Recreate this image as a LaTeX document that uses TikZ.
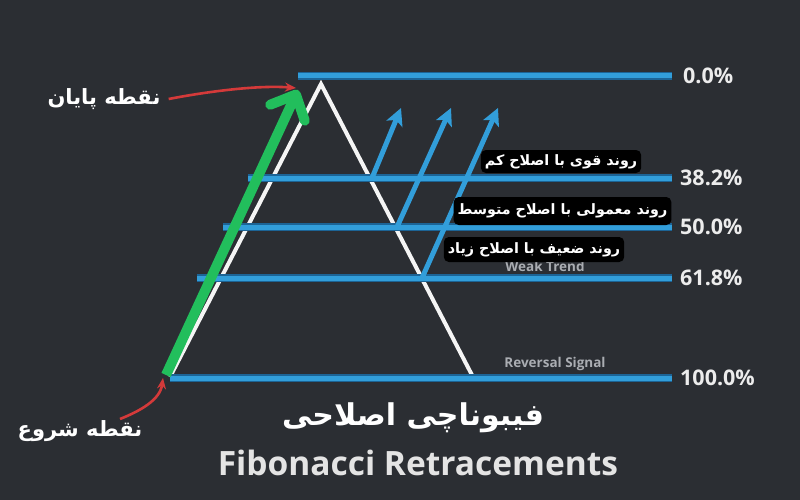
\documentclass[tikz,border=0pt]{standalone}
\usepackage{fontspec}
\setmainfont{Open Sans}
\newfontfamily\arabicfont[Script=Arabic]{DejaVu Sans}
\TeXXeTstate=1
\usetikzlibrary{arrows.meta}
\definecolor{bg}{RGB}{43,46,51}
\definecolor{lvlblue}{RGB}{50,158,218}
\definecolor{lvledge}{RGB}{28,100,150}
\definecolor{triwhite}{RGB}{245,245,245}
\definecolor{pcttext}{RGB}{236,236,236}
\definecolor{grnarrow}{RGB}{34,190,92}
\definecolor{redarrow}{RGB}{212,58,58}
\definecolor{faint}{RGB}{170,173,178}
\definecolor{entitle}{RGB}{228,228,228}
\begin{document}
\begin{tikzpicture}[x=1pt,y=-1pt,
  leveledge/.style={line width=7.5pt, draw=lvledge},
  level/.style={line width=5pt, draw=lvlblue},
  pct/.style={anchor=west, text=pcttext, inner sep=0pt, font=\fontsize{21.5}{24}\selectfont\bfseries},
  tri/.style={draw=triwhite, line width=4pt, line join=miter},
  uparrow/.style={draw=lvlblue, line width=5pt, -{Stealth[length=17pt,width=17pt,inset=4pt]}},
  grn/.style={draw=grnarrow, line width=10pt, -{Straight Barb[length=20pt,width=38pt,round]}},
  redarr/.style={draw=redarrow, line width=2.6pt, -{Stealth[length=11pt,width=9pt]}},
  tag/.style={fill=black, rounded corners=5pt, text=white, inner xsep=4pt, inner ysep=0pt, font=\arabicfont\bfseries\fontsize{14.3}{16}\selectfont},
  lbl/.style={text=white, inner sep=0pt, font=\arabicfont\bfseries\fontsize{21}{24}\selectfont},
  faintlbl/.style={text=faint, inner sep=0pt, font=\fontsize{13.5}{15}\selectfont\bfseries}
]
\useasboundingbox (0,0) rectangle (800,500);
\fill[bg] (0,0) rectangle (800,500);

% triangle
\coordinate (apex) at (321,84);
\coordinate (bl) at (170,377);
\coordinate (br) at (473,377);
\draw[tri] (bl) -- (apex) -- (br);

% levels
\coordinate (l0) at (298,76);   \coordinate (r0) at (672,76);
\coordinate (l1) at (248,178);  \coordinate (r1) at (672,178);
\coordinate (l2) at (223,227);  \coordinate (r2) at (672,227);
\coordinate (l3) at (197,278);  \coordinate (r3) at (672,278);
\coordinate (l4) at (170,378);  \coordinate (r4) at (672,378);
\foreach \i in {0,1,2,3,4} {\draw[leveledge] (l\i) -- (r\i);}
\foreach \i in {0,1,2,3,4} {\draw[level] (l\i) -- (r\i);}

\node[pct] (p0) at (683,76) {0.0\%};
\node[pct] (p1) at (680,178) {38.2\%};
\node[pct] (p2) at (680,227) {50.0\%};
\node[pct] (p3) at (680,278) {61.8\%};
\node[pct] (p4) at (680,378) {100.0\%};

% blue trend arrows
\coordinate (s1) at (372,178); \coordinate (e1) at (401,108);
\coordinate (s2) at (397,227); \coordinate (e2) at (451,108);
\coordinate (s3) at (422,278); \coordinate (e3) at (498,108);
\draw[uparrow] (s1) -- (e1);
\draw[uparrow] (s2) -- (e2);
\draw[uparrow] (s3) -- (e3);

% faint labels
\node[faintlbl] (weak) at (545,266) {Weak Trend};
\node[faintlbl] (rev) at (555,364) {Reversal Signal};

% tags
\node[tag, minimum width=152pt, minimum height=23pt] (t1) at (561,161.5) {\beginR روند قوی با اصلاح کم\endR};
\node[tag, minimum width=215pt, minimum height=28pt] (t2) at (562.5,211) {\beginR روند معمولی با اصلاح متوسط\endR};
\node[tag, minimum width=178pt, minimum height=25pt] (t3) at (534,249.5) {\beginR روند ضعیف با اصلاح زیاد\endR};

% green arrow
\coordinate (gs) at (166,375);
\coordinate (ge) at (298,90);
\draw[grn] (gs) -- (ge);

% labels and red arrows
\node[lbl] (endlbl) at (104,99) {\beginR نقطه پایان\endR};
\node[lbl] (startlbl) at (80,431) {\beginR نقطه شروع\endR};
\coordinate (rt1) at (296,88);
\coordinate (rs2) at (120,419);
\coordinate (rt2) at (163,378);
\draw[redarr] ([xshift=8pt]endlbl.east) .. controls (210,91) and (260,85) .. (rt1);
\draw[redarr] (rs2) .. controls (140,411) and (160,400) .. (rt2);

% titles
\node[text=white, inner sep=0pt, font=\arabicfont\bfseries\fontsize{30}{36}\selectfont] (fa) at (413,418) {\beginR فیبوناچی اصلاحی\endR};
\node[text=entitle, inner sep=0pt, font=\fontsize{33.5}{38}\selectfont\bfseries] (en) at (418,463) {Fibonacci Retracements};
\end{tikzpicture}
\end{document}
